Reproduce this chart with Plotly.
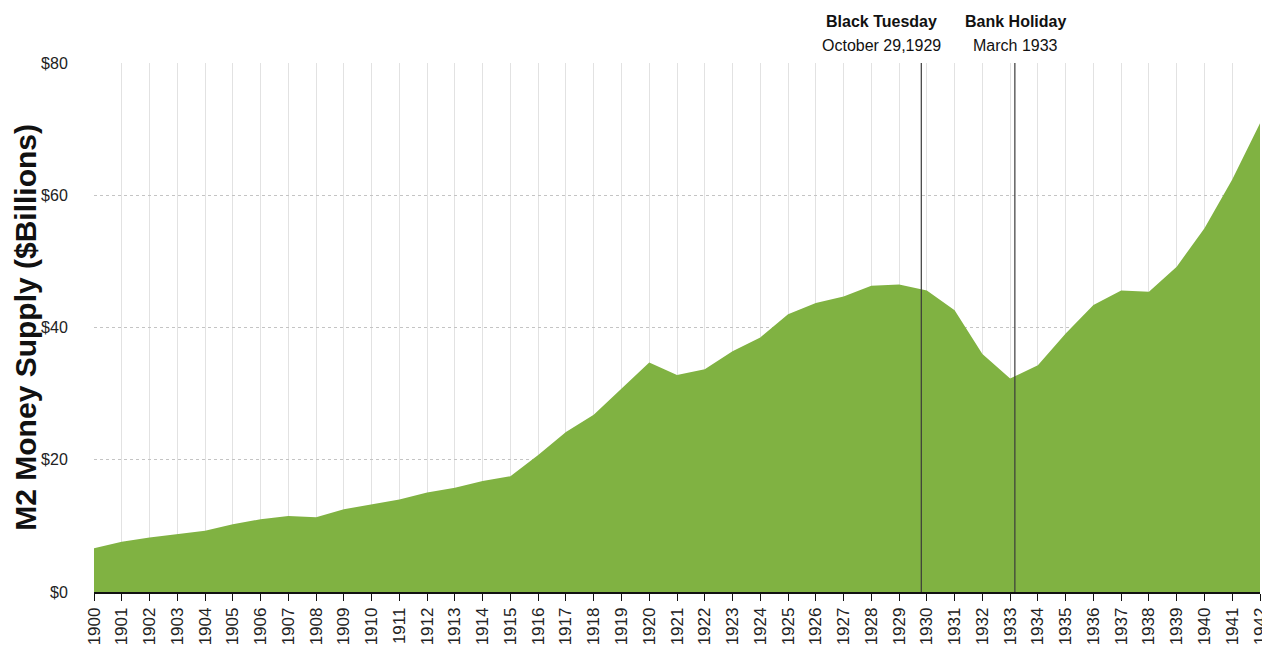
import plotly.graph_objects as go

years = list(range(1900, 1943))
m2_billions = [6.6, 7.6, 8.25, 8.7, 9.25, 10.25, 11.0, 11.5, 11.3, 12.5,
               13.25, 14.0, 15.05, 15.75, 16.8, 17.5, 20.7, 24.2, 26.8, 30.8,
               34.7, 32.8, 33.7, 36.4, 38.5, 42.0, 43.7, 44.7, 46.3, 46.5,
               45.6, 42.6, 36.0, 32.3, 34.3, 39.1, 43.4, 45.6, 45.4, 49.2,
               55.0, 62.4, 70.9]
y_ticks = [0, 20, 40, 60, 80]
y_tick_labels = ["$0", "$20", "$40", "$60", "$80"]

event_x = [1929.8, 1933.17]
event_titles = ["Black Tuesday", "Bank Holiday"]
event_dates = ["October 29,1929", "March 1933"]
event_label_x = [1928.35, 1933.2]

fig = go.Figure()
fig.add_trace(go.Scatter(
    x=years, y=m2_billions, mode="lines", fill="tozeroy",
    line=dict(width=0, color="#80b242"), fillcolor="#80b242",
    hoverinfo="x+y", showlegend=False))

for xv in event_x:
    fig.add_shape(type="line", xref="x", yref="paper", x0=xv, x1=xv, y0=0, y1=1,
                  line=dict(color="#3a3a3a", width=1.2))

for lx, t, d in zip(event_label_x, event_titles, event_dates):
    fig.add_annotation(x=lx, xref="x", y=1.079, yref="paper", text="<b>" + t + "</b>",
                       showarrow=False, xanchor="center", yanchor="middle",
                       font=dict(size=16, color="#111", family="Liberation Sans, Arial"))
    fig.add_annotation(x=lx, xref="x", y=1.034, yref="paper", text=d,
                       showarrow=False, xanchor="center", yanchor="middle",
                       font=dict(size=16, color="#111", family="Liberation Sans, Arial"))

fig.add_annotation(x=-0.059, xref="paper", y=0.5, yref="paper",
                   text="<b>M2 Money Supply ($Billions)</b>", textangle=-90,
                   showarrow=False, xanchor="center", yanchor="middle",
                   font=dict(size=30, color="#111", family="Liberation Sans, Arial"))

fig.update_layout(
    width=1262, height=643,
    margin=dict(l=86, r=10, t=55, b=59),
    paper_bgcolor="white", plot_bgcolor="white",
    font=dict(family="Liberation Sans, Arial", color="#222"),
    xaxis=dict(range=[1900, 1942], tickmode="array", tickvals=years,
               ticktext=[str(y) for y in years], tickangle=-90,
               tickfont=dict(size=17, color="#222"), ticklabeloverflow="allow",
               ticks="outside", ticklen=7, tickcolor="#111", tickwidth=1.3,
               showline=True, linecolor="#111", linewidth=1.5,
               showgrid=True, gridcolor="#e2e2e2", gridwidth=1,
               zeroline=False, automargin=False, fixedrange=True),
    yaxis=dict(range=[0, 80], tickmode="array", tickvals=y_ticks,
               ticktext=y_tick_labels, tickfont=dict(size=16, color="#222"),
               ticks="outside", ticklen=22, tickcolor="rgba(0,0,0,0)",
               showline=False, showgrid=True, gridcolor="#c4c4c4",
               griddash="dot", gridwidth=1, zeroline=False,
               automargin=False, fixedrange=True),
)

fig.write_html("out.html")
